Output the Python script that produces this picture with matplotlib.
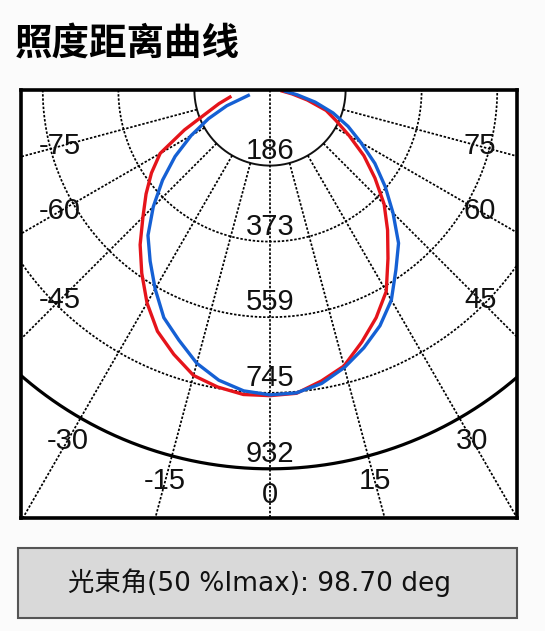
import numpy as np
import matplotlib
matplotlib.use("Agg")
import matplotlib.pyplot as plt
from matplotlib.patches import Rectangle

plt.rcParams['font.family'] = ['Liberation Sans', 'Noto Sans CJK SC']

title = "照度距离曲线"
beam_text = "光束角(50 %Imax): 98.70 deg"

# radial grid values (cd) and angle ticks (deg)
rings = [186, 373, 559, 745, 932]
angle_ticks = [-75, -60, -45, -30, -15, 0, 15, 30, 45, 60, 75]

# red curve
red_angles = [-80, -75, -70, -65, -60, -55, -50, -45, -40, -35, -30, -25, -20, -15, -10, -5,
              0, 5, 10, 15, 20, 25, 30, 35, 40, 45, 50, 55, 60, 65, 70, 75, 80, 85]
red_vals = [100, 130, 166, 232, 312, 356, 398, 442, 497, 550, 605, 655, 692, 727, 742, 752,
            752, 749, 727, 703, 660, 618, 572, 506, 450, 397, 337, 282, 225, 180, 147, 95, 55, 30]

# blue curve
blue_angles = [-76, -70, -65, -60, -55, -50, -45, -40, -35, -30, -25, -20, -15, -10, -5,
               0, 5, 10, 15, 20, 25, 30, 35, 40, 45, 50, 55, 60, 65, 70, 75, 80, 85]
blue_vals = [55, 113, 167, 224, 285, 345, 406, 467, 514, 565, 618, 655, 696, 725, 743,
             750, 748, 733, 707, 675, 640, 597, 540, 492, 428, 370, 315, 258, 212, 165, 115, 68, 38]


def to_xy(ang, r):
    a = np.radians(np.asarray(ang, dtype=float))
    r = np.asarray(r, dtype=float)
    return r * np.sin(a), -r * np.cos(a)


W, H = 545, 631
fig = plt.figure(figsize=(W / 100, H / 100), dpi=100)
fig.patch.set_facecolor('#fbfbfb')

ax = fig.add_axes([21 / W, (H - 518) / H, 496 / W, 428 / H])
ax.set_facecolor('white')
ax.set_xlim(-612.5, 607.6)
ax.set_ylim(-1053, 0)
ax.set_xticks([])
ax.set_yticks([])
for s in ax.spines.values():
    s.set_linewidth(2.6)
    s.set_color('black')

dot = dict(color='black', lw=1.25, ls=(0, (1.4, 1.0)))

# circles
t = np.linspace(-90, 90, 400)
for r in rings:
    x, y = to_xy(t, np.full_like(t, r))
    if r == rings[0]:
        ax.plot(x, y, color='#111111', lw=1.4)
    elif r == rings[-1]:
        ax.plot(x, y, color='black', lw=2.3)
    else:
        ax.plot(x, y, **dot)

# radial lines every 15 deg
for a in range(-75, 90, 15):
    r0 = 0 if a == 0 else rings[0]
    x, y = to_xy([a, a], [r0, 3000])
    ax.plot(x, y, **dot)

# ring labels
for r in rings:
    ax.text(0, -(r - 37), str(r), ha='center', va='center', fontsize=21, color='#111')

# angle labels
lab_r = 996
xmax = 517
for a in angle_ticks:
    x, y = to_xy(a, lab_r)
    x, y = float(x), float(y)
    if abs(x) > xmax:
        k = xmax / abs(x)
        x, y = x * k, y * k
    ax.text(x, y, str(a), ha='center', va='center', fontsize=21, color='#111')

# curves
x, y = to_xy(red_angles, red_vals)
ax.plot(x, y, color='#e5141b', lw=2.4, solid_joinstyle='round')
x, y = to_xy(blue_angles, blue_vals)
ax.plot(x, y, color='#1560d4', lw=2.4, solid_joinstyle='round')

# title
fig.text(15 / W, 1 - 43 / H, title, fontsize=27, fontweight='bold',
         family=['Noto Sans CJK SC'], ha='left', va='center')

# beam angle box
box = Rectangle((18 / W, 1 - 618 / H), 499 / W, 70 / H, transform=fig.transFigure,
                facecolor='#d9d9d9', edgecolor='#555555', lw=1.5)
fig.patches.append(box)
fig.text(260 / W, 1 - 583 / H, beam_text, fontsize=19, ha='center', va='center', color='#111',
         family=['DejaVu Sans', 'Noto Sans CJK SC'])

fig.savefig('out.png', dpi=100, facecolor=fig.get_facecolor())
